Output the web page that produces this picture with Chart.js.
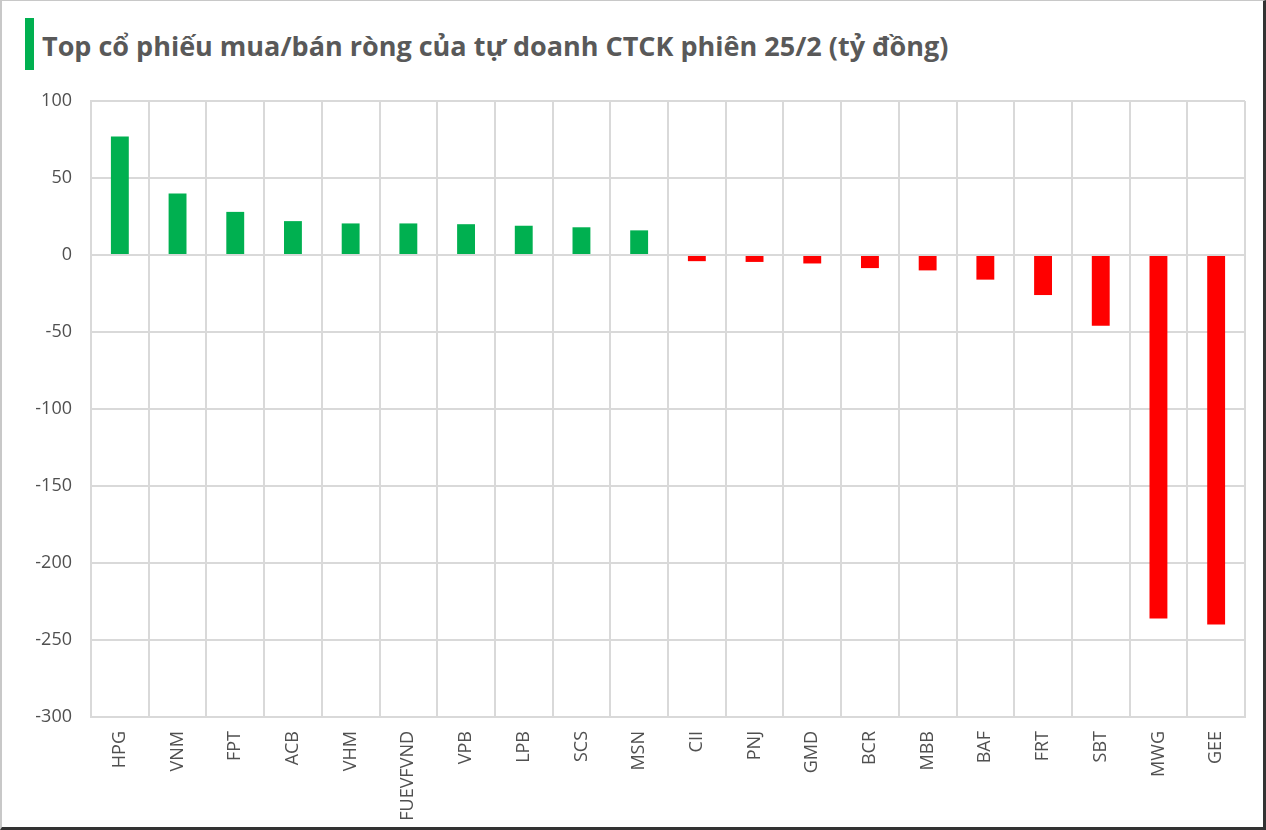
<!DOCTYPE html>
<html>
<head>
<meta charset="utf-8">
<script src="https://cdn.jsdelivr.net/npm/chart.js@4.4.1/dist/chart.umd.min.js"></script>
<style>
  html, body { margin: 0; padding: 0; background: #fff; }
  #wrap {
    position: relative; width: 1266px; height: 830px; box-sizing: border-box;
    border-top: 1px solid #c8c8c8; border-left: 2px solid #c8c8c8;
    border-right: 3px solid #333; border-bottom: 3px solid #333;
    overflow: hidden;
  }
  #title {
    position: absolute; left: 23px; top: 17px; height: 52px;
    border-left: 9px solid #00b050; padding-left: 8px;
    font-family: "Open Sans", sans-serif; font-weight: bold; font-size: 27px;
    color: #595959; line-height: 56px; white-space: nowrap;
  }
  #chart { position: absolute; left: -2px; top: -1px; }
</style>
</head>
<body>
<div id="wrap">
  <div id="title">Top cổ phiếu mua/bán ròng của tự doanh CTCK phiên 25/2 (tỷ đồng)</div>
  <canvas id="chart" width="1266" height="830"></canvas>
</div>
<script>
const tickers = ["HPG", "VNM", "FPT", "ACB", "VHM", "FUEVFVND", "VPB", "LPB", "SCS", "MSN",
  "CII", "PNJ", "GMD", "BCR", "MBB", "BAF", "FRT", "SBT", "MWG", "GEE"];
const netValues = [77, 40, 28, 22, 20.5, 20.5, 20, 19, 18, 16,
  -4, -4.5, -5.5, -8.5, -10, -16, -26, -46, -236, -240];
const yTicks = [100, 50, 0, -50, -100, -150, -200, -250, -300];

const gridColor = '#d9d9d9';
const textColor = '#505050';

const chartEl = document.getElementById("chart");
const chart = new Chart(chartEl, {
  type: "bar",
  data: {
    labels: tickers,
    datasets: [{
      label: "Giá trị ròng",
      data: netValues,
      backgroundColor: netValues.map(v => v >= 0 ? '#00b050' : '#ff0000'),
      barPercentage: 0.31,
      categoryPercentage: 1
    }]
  },
  options: {
    responsive: false,
    animation: false,
    layout: { padding: { top: 101, right: 21, left: 0, bottom: 0 } },
    plugins: { legend: { display: false }, tooltip: { enabled: false } },
    scales: {
      x: {
        grid: { color: gridColor, lineWidth: 2, drawTicks: false },
        border: { color: gridColor, width: 2 },
        afterFit: scale => { scale.height = 113; },
        ticks: {
          color: textColor, font: { family: "Open Sans", size: 18 },
          minRotation: 90, maxRotation: 90, padding: 14, autoSkip: false
        }
      },
      y: {
        min: -300, max: 100,
        grid: { color: gridColor, lineWidth: 2, drawTicks: false },
        border: { color: gridColor, width: 2 },
        afterFit: scale => { scale.width = 91; },
        afterBuildTicks: scale => { scale.ticks = yTicks.map(v => ({ value: v })); },
        ticks: {
          color: textColor, font: { family: "Open Sans", size: 18 },
          padding: 19
        }
      }
    }
  }
});
chart.draw();
</script>
</body>
</html>
